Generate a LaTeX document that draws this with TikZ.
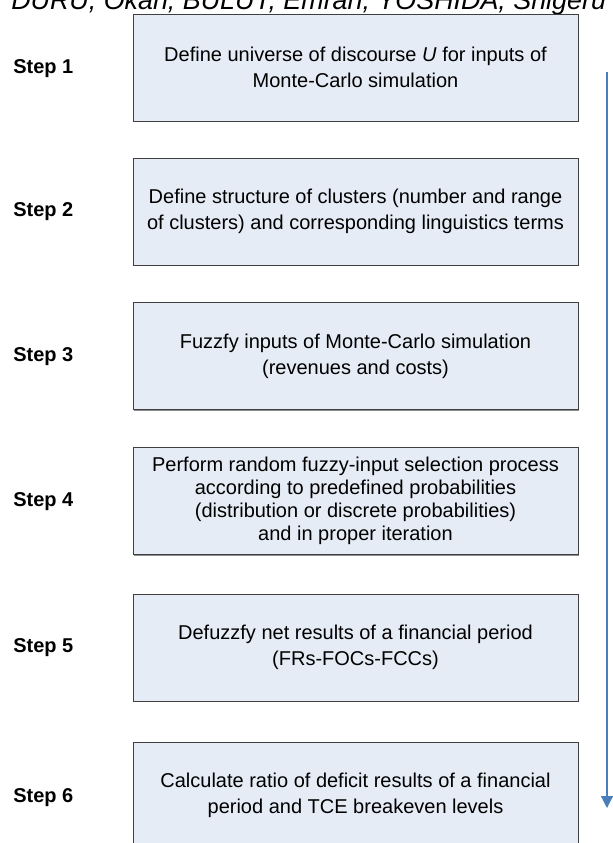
\documentclass[tikz,border=0pt]{standalone}
\usepackage{fontspec}
\setmainfont{Liberation Sans}
\usetikzlibrary{arrows.meta,shadows}
\definecolor{boxfill}{HTML}{E6ECF6}
\definecolor{flowblue}{HTML}{4A7EBB}
\begin{document}
\begin{tikzpicture}[x=0.75pt,y=-0.75pt]
	\useasboundingbox (0,0) rectangle (613,843);
	\clip (0,0) rectangle (613,843);

	\node[anchor=base west, inner sep=0pt, font=\fontsize{20.15}{24}\selectfont\itshape] (authors) at (11,9.5) {DURU, Okan; BULUT, Emrah; YOSHIDA, Shigeru};

	\begin{scope}[every node/.style={rectangle, draw=black!75, fill=boxfill, align=center, minimum width=333.75pt, minimum height=80.25pt, font=\fontsize{15}{17.25}\selectfont, drop shadow={shadow xshift=1pt, shadow yshift=-1pt, fill=black!45, opacity=1}}]
		\node (b1) at (355.5,67.5) {Define universe of discourse \textit{U} for inputs of\\[2.5pt]Monte-Carlo simulation};
		\node (b2) at (355.5,211.5) {Define structure of clusters (number and range\\[2.5pt]of clusters) and corresponding linguistics terms};
		\node (b3) at (355.5,356) {Fuzzfy inputs of Monte-Carlo simulation\\[2.5pt](revenues and costs)};
		\node (b4) at (355.5,501) {Perform random fuzzy-input selection process\\according to predefined probabilities\\(distribution or discrete probabilities)\\and in proper iteration};
		\node (b5) at (355.5,647.5) {Defuzzfy net results of a financial period\\[2.5pt](FRs-FOCs-FCCs)};
		\node (b6) at (355.5,795.5) {Calculate ratio of deficit results of a financial\\[2.5pt]period and TCE breakeven levels};
	\end{scope}

	\begin{scope}[every node/.style={anchor=west, inner sep=0pt, font=\fontsize{15}{18}\selectfont\bfseries}]
		\node (s1) at (13,68.5) {Step 1};
		\node (s2) at (13,212) {Step 2};
		\node (s3) at (13,356.5) {Step 3};
		\node (s4) at (13,501.5) {Step 4};
		\node (s5) at (13,648) {Step 5};
		\node (s6) at (13,798) {Step 6};
	\end{scope}

	\coordinate (flowtop) at (607,72);
	\coordinate (flowend) at (607,808);
	\draw[flowblue, line width=0.9pt, -{Triangle[width=9pt,length=9pt]}] (flowtop) -- (flowend);
\end{tikzpicture}
\end{document}
